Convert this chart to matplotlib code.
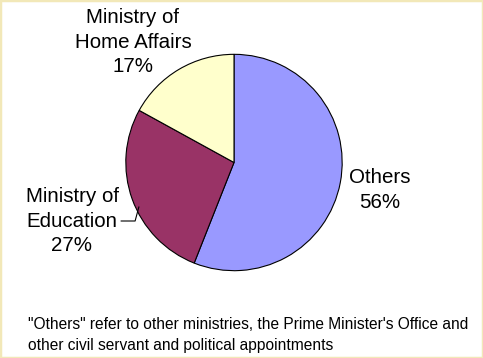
import matplotlib
matplotlib.use("Agg")
import matplotlib.pyplot as plt
from matplotlib.patches import Rectangle
import numpy as np

categories = ["Others", "Ministry of Education", "Ministry of Home Affairs"]
shares = [56, 27, 17]
colors = ["#9999FF", "#993366", "#FFFFCC"]
label_text = ["Others\n56%", "Ministry of\nEducation\n27%", "Ministry of\nHome Affairs\n17%"]
footnote = ("\"Others\" refer to other ministries, the Prime Minister's Office and\n"
            "other civil servant and political appointments")

plt.rcParams["font.family"] = ["Liberation Sans", "DejaVu Sans"]

W, H = 483, 358
fig = plt.figure(figsize=(W / 100, H / 100), dpi=100)
fig.patch.set_facecolor("white")

# pie axes: centre (234, 162.5) px from top-left, radius 108.5 px
cx, cy, r = 234, 162.5, 108.5
ax = fig.add_axes([(cx - r) / W, (H - cy - r) / H, 2 * r / W, 2 * r / H])
wedges, _ = ax.pie(shares, colors=colors, startangle=90, counterclock=False,
                   radius=1, wedgeprops=dict(edgecolor="black", linewidth=0.8))
ax.set_aspect("equal")
ax.set_xlim(-1.003, 1.003)
ax.set_ylim(-1.003, 1.003)
ax.axis("off")

def px(x, y):
    return x / W, 1 - y / H

fs = 14.8
# label centres in pixel coordinates
pos = [(380, 190), (72, 221), (133, 42)]
for txt, (x, y) in zip(label_text, pos):
    fig.text(*px(x, y), txt, ha="center", va="center", fontsize=fs,
             linespacing=1.38, color="black")

# leader line for the Education label
edu_angle = np.deg2rad(205)
ex, ey = np.cos(edu_angle), np.sin(edu_angle)
ax.annotate("", xy=(ex * 0.97, ey * 0.97), xycoords="data",
            xytext=px(121, 221), textcoords="figure fraction",
            arrowprops=dict(arrowstyle="-", color="black", lw=0.8,
                            connectionstyle="angle,angleA=0,angleB=-105,rad=0",
                            shrinkA=0, shrinkB=0))

fig.text(*px(28, 335), footnote, ha="left", va="center", fontsize=11.2,
         linespacing=1.55, color="black")

fig.patches.append(Rectangle((0, 0), 1, 1, transform=fig.transFigure,
                             fill=False, edgecolor="#F2E8B8", linewidth=2.5))

fig.savefig("out.png", dpi=100)
